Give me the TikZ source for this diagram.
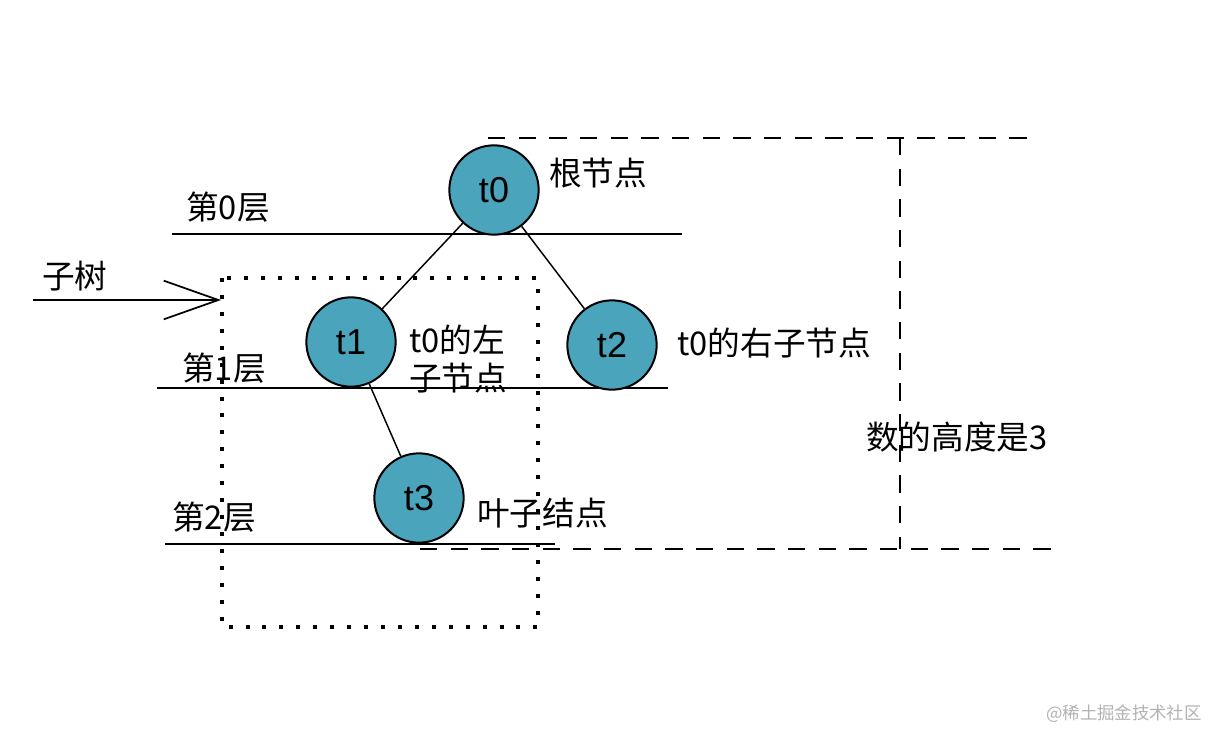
\documentclass[tikz,border=0pt]{standalone}
\usepackage{fontspec}
\setmainfont{Noto Sans CJK SC}
\newfontfamily\latinsans{Liberation Sans}
\usepackage{xcolor}
\usepackage{tikz}
\usetikzlibrary{arrows.meta}

\definecolor{treeblue}{RGB}{74,165,188}
\tikzset{
  treenode/.style={circle,draw=black,line width=1.5pt,fill=treeblue,minimum size=67pt,inner sep=0pt,font=\latinsans\fontsize{27}{30}\selectfont},
  lbl/.style={anchor=west,inner sep=0.75pt,font=\fontsize{24.5}{29}\selectfont,align=left},
  levelline/.style={line width=1.2pt},
  heightline/.style={line width=2.2pt,dash pattern=on 13pt off 10pt},
  subtreebox/.style={line width=2.4pt,dash pattern=on 3pt off 9.7pt}
}

\begin{document}
\begin{tikzpicture}[x=0.75pt,y=0.75pt,yscale=-1,xscale=1]
        \useasboundingbox (0,0) rectangle (1228,746);
        % height of the tree
        \coordinate (htl) at (488,138);
        \coordinate (htr) at (1040,138);
        \coordinate (hbl) at (420,549);
        \coordinate (hbr) at (1052,549);
        \coordinate (hvt) at (900,138);
        \coordinate (hvb) at (900,549);
        \draw [heightline] (htl) -- (htr);
        \draw [heightline] (hbl) -- (hbr);
        \draw [heightline] (hvt) -- (hvb);
        \draw (865,437) node [lbl] (height) {数的高度是3};

        % levels
        \draw [levelline] (172,234) -- (682,234);
        \draw [levelline] (157,388) -- (668,388);
        \draw [levelline] (165,544) -- (555,544);
        \draw (185,207) node [lbl] (lv0) {第0层};
        \draw (181,368) node [lbl] (lv1) {第1层};
        \draw (171,517) node [lbl] (lv2) {第2层};

        % subtree box
        \draw [subtreebox] (222,278) rectangle (538,627);
        \coordinate (tail) at (33,300);
        \coordinate (tip) at (221,300);
        \draw [line width=1.3pt,-{Straight Barb[length=41pt,width=29pt,line width=1.3pt]}] (tail) -- (tip);
        \draw (41,276) node [lbl] (sub) {子树};

        % tree
        \node [treenode] (t0) at (494,190) {t0};
        \node [treenode] (t1) at (351,342) {t1};
        \node [treenode] (t2) at (612,345) {t2};
        \node [treenode] (t3) at (419,498) {t3};
        \draw [line width=1.1pt] (t0) -- (t1);
        \draw [line width=1.1pt] (t0) -- (t2);
        \draw [line width=1.1pt] (t1) -- (t3);

        \draw (548,173) node [lbl] (root) {根节点};
        \draw (408,359) node [lbl,text width=110pt] (left) {t0的左\\子节点};
        \draw (676,343) node [lbl] (right) {t0的右子节点};
        \draw (476,513) node [lbl] (leaf) {叶子结点};

        \draw (1045,714) node [lbl,text=black!30,font=\fontsize{13}{15}\selectfont] (mark) {@稀土掘金技术社区};
\end{tikzpicture}
\end{document}
